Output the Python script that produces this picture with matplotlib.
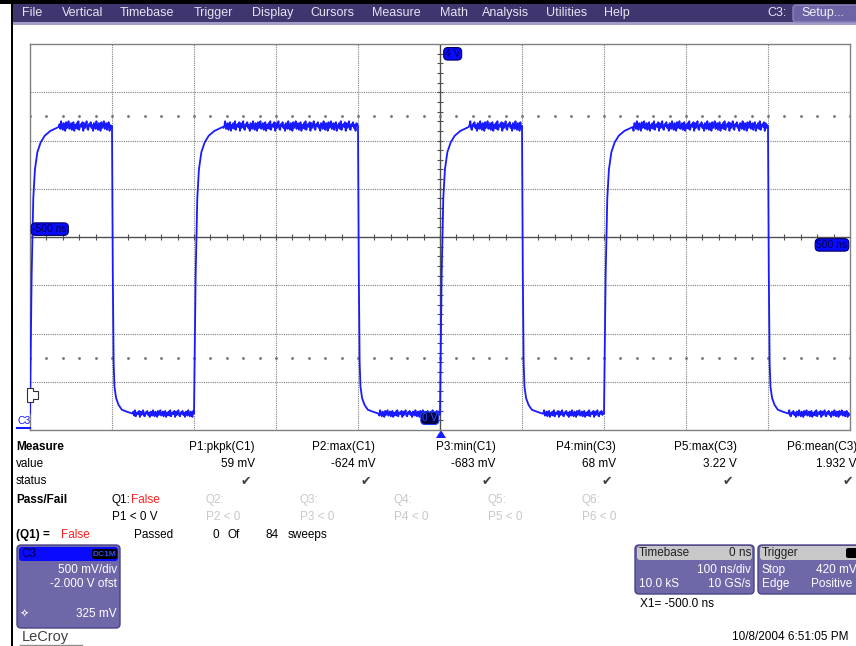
"""
LeCroy scope screen: C3 square-ish pulse train, 100 ns/div, 500 mV/div.
"""

# %% ---- Requirements and constants
import matplotlib
matplotlib.use("Agg")
import matplotlib.pyplot as plt
from matplotlib.patches import FancyBboxPatch, Rectangle, Polygon

plt.rcParams["font.family"] = ["Liberation Sans", "DejaVu Sans"]

W, H = 856, 646

# trace (time in ns, volts)
rise_times = [-500, -300, 0, 200]
fall_times = [-400, -100, 100, 400]
rise_dt = [0, 2, 4, 6, 9, 13, 18, 25, 35]
rise_v = [0.17, 1.6, 2.4, 2.7, 2.88, 2.98, 3.05, 3.10, 3.14]
fall_dt = [0, 1, 2, 3, 5, 8, 12, 18, 25]
fall_v = [3.15, 1.6, 0.70, 0.45, 0.33, 0.26, 0.21, 0.19, 0.17]
high_level = 3.15
low_level = 0.17
ripple = [0.02, -0.03, 0.05, -0.01, -0.04, 0.03, 0.01, -0.05, 0.04, -0.02,
          0.00, 0.05, -0.03, -0.01, 0.03, -0.04, 0.02, 0.04, -0.05, 0.01,
          -0.02, 0.03, -0.03, 0.05, -0.04, 0.00, 0.02, -0.01, 0.04, -0.05,
          0.03, -0.02, 0.01, 0.05, -0.03, -0.04, 0.02, 0.00, 0.04, -0.02,
          0.01, -0.05, 0.03]

menu_items = ["File", "Vertical", "Timebase", "Trigger", "Display", "Cursors",
              "Measure", "Math", "Analysis", "Utilities", "Help"]
menu_x = [22, 62, 120, 194, 252, 310, 372, 440, 482, 546, 604]

param_names = ["P1:pkpk(C1)", "P2:max(C1)", "P3:min(C1)",
               "P4:min(C3)", "P5:max(C3)", "P6:mean(C3)"]
param_values = ["59 mV", "-624 mV", "-683 mV", "68 mV", "3.22 V", "1.932 V"]
qual_names = ["Q1:", "Q2:", "Q3:", "Q4:", "Q5:", "Q6:"]
qual_conds = ["P1 < 0 V", "P2 < 0", "P3 < 0", "P4 < 0", "P5 < 0", "P6 < 0"]

PURPLE = "#3f3670"
BOXBODY = "#6e68a8"
TRACE = "#1a1aff"


# %% ---- Function and class
def build_trace():
    edges = sorted([(t, "r") for t in rise_times] + [(t, "f") for t in fall_times])
    ts, vs = [], []
    k = 0
    for i, (t0, kind) in enumerate(edges):
        dts, shape = (rise_dt, rise_v) if kind == "r" else (fall_dt, fall_v)
        level = high_level if kind == "r" else low_level
        scale = 1.0 if kind == "r" else 0.7
        for dt, v in zip(dts, shape):
            ts.append(t0 + dt)
            vs.append(v)
        t_end = edges[i + 1][0] if i + 1 < len(edges) else 500
        t = t0 + dts[-1] + 1
        while t < t_end:
            ts.append(t)
            vs.append(level + scale * ripple[k % len(ripple)])
            k += 1
            t += 1
    return ts, vs


def rbox(ax, x, y, w, h, fc, ec="none", r=3, lw=1):
    ax.add_patch(FancyBboxPatch((x, y), w, h,
                                boxstyle=f"round,pad=0,rounding_size={r}",
                                fc=fc, ec=ec, lw=lw))


# %% ---- Play ground
fig = plt.figure(figsize=(W / 100, H / 100), dpi=100)
bg = fig.add_axes([0, 0, 1, 1], zorder=0)
bg.set_xlim(0, W)
bg.set_ylim(H, 0)
bg.axis("off")

# frame + menu bar
bg.add_patch(Rectangle((0, 0), W, 4, fc="black"))
bg.add_patch(Rectangle((11, 0), 2, H, fc="black"))
bg.add_patch(Rectangle((13, 4), W, 18, fc=PURPLE))
bg.add_patch(Rectangle((13, 22), W, 3, fc="#a49cc8"))
for name, x in zip(menu_items, menu_x):
    bg.text(x, 13, name, color="#e6e4f2", fontsize=9, va="center")
bg.text(767, 13, "C3:", color="#e6e4f2", fontsize=9, va="center")
rbox(bg, 793, 5, 70, 17, "#6c64a4", "#8a84b8", r=3)
bg.text(801, 13, "Setup...", color="#f0f0f8", fontsize=9, va="center")

# scope grid
ax = fig.add_axes([30 / W, 1 - 430 / H, 820 / W, 386 / H], zorder=1)
ax.set_xlim(-500, 500)
ax.set_ylim(0, 4)
ax.set_xticks([])
ax.set_yticks([])
for s in ax.spines.values():
    s.set_color("#808080")
    s.set_linewidth(1)
for gx in range(-400, 500, 100):
    if gx != 0:
        ax.axvline(gx, color="#808080", lw=0.8, ls=(0, (1, 1)), zorder=1)
for gy in [0.5, 1.0, 1.5, 2.5, 3.0, 3.5]:
    ax.axhline(gy, color="#808080", lw=0.8, ls=(0, (1, 1)), zorder=1)
ax.axhline(2, color="#505050", lw=1, zorder=1)
ax.axvline(0, color="#505050", lw=1, zorder=1)
tick_t = [t for t in range(-500, 501, 20)]
tick_v = [v / 10 for v in range(0, 41)]
ax.plot(tick_t, [2] * len(tick_t), ls="none", marker="|", ms=5, mew=0.8, color="#505050", zorder=1)
ax.plot([0] * len(tick_v), tick_v, ls="none", marker="_", ms=5, mew=0.8, color="#505050", zorder=1)
for lv in [3.25, 0.75]:
    ax.plot(tick_t, [lv] * len(tick_t), ls="none", marker="s", ms=0.9, color="#707070", zorder=1)

ts, vs = build_trace()
ax.plot(ts, vs, color=TRACE, lw=1.3, zorder=3)

# on-grid labels
lab = dict(fontsize=7.5, color="#000050", zorder=5)
ax.text(-497, 2.03, "-500 ns", ha="left", va="bottom",
        bbox=dict(boxstyle="round,pad=0.12,rounding_size=0.4", fc="#0a0aff", ec="#000060", lw=0.8), **lab)
ax.text(497, 1.97, "500 ns", ha="right", va="top",
        bbox=dict(boxstyle="round,pad=0.12,rounding_size=0.4", fc="#0a0aff", ec="#000060", lw=0.8), **lab)
ax.text(6, 3.95, "4 V", ha="left", va="top",
        bbox=dict(boxstyle="round,pad=0.12,rounding_size=0.4", fc="#0a0aff", ec="#000060", lw=0.8), **lab)
ax.text(-3, 0.07, "0 V", ha="right", va="bottom", fontsize=7.5, color="#3050ff", zorder=5,
        bbox=dict(boxstyle="round,pad=0.12,rounding_size=0.4", fc="#000040", ec="#2040ff", lw=0.8))

# trigger / level markers (drawn over the grid frame)
bg.add_patch(Polygon([[436, 438], [446, 438], [441, 430]], fc="#1a1aff", zorder=2))
ax.add_patch(Polygon([[27, 388], [33, 388], [33, 391], [38, 391], [38, 399],
                      [33, 399], [33, 402], [27, 402]], fc="white", ec="#303030",
                     lw=0.8, transform=bg.transData, clip_on=False, zorder=6))
ax.text(18, 421, "C3", color="#1a1aff", fontsize=7.5, va="center",
        transform=bg.transData, clip_on=False, zorder=6)
ax.plot([17, 30], [428, 428], color="#1a1aff", lw=1.5,
        transform=bg.transData, clip_on=False, zorder=6)

# measurement table
fs = 8.5
bg.text(16, 447, "Measure", fontsize=fs, weight="bold", va="center")
bg.text(16, 464, "value", fontsize=fs, va="center")
bg.text(16, 481, "status", fontsize=fs, va="center")
bg.text(16, 500, "Pass/Fail", fontsize=fs, weight="bold", va="center")
for i, (nm, val) in enumerate(zip(param_names, param_values)):
    xr = 255 + 120.4 * i
    bg.text(xr, 447, nm, fontsize=fs, ha="right", va="center")
    bg.text(xr, 464, val, fontsize=fs, ha="right", va="center")
    bg.text(xr - 4, 481, "\u2714", fontsize=9, ha="right", va="center",
            color="#404040", family="DejaVu Sans")
for i, (qn, qc) in enumerate(zip(qual_names, qual_conds)):
    xl = 112 + 94 * i
    col = "black" if i == 0 else "#c8c8c8"
    bg.text(xl, 500, qn, fontsize=fs, va="center", color=col)
    bg.text(xl, 517, qc, fontsize=fs, va="center", color=col)
bg.text(131, 500, "False", fontsize=fs, va="center", color="#ff2020")
bg.text(16, 535, "(Q1) =", fontsize=fs, weight="bold", va="center")
bg.text(61, 535, "False", fontsize=fs, va="center", color="#ff2020")
bg.text(134, 535, "Passed", fontsize=fs, va="center")
bg.text(213, 535, "0", fontsize=fs, va="center")
bg.text(228, 535, "Of", fontsize=fs, va="center")
bg.text(266, 535, "84", fontsize=fs, va="center")
bg.text(288, 535, "sweeps", fontsize=fs, va="center")

# channel descriptor box
rbox(bg, 17, 545, 103, 83, BOXBODY, "#4a4488", r=4)
rbox(bg, 19, 547, 99, 14, "#0a0aff", "none", r=3)
bg.text(21, 554, "C3", fontsize=8.5, va="center", color="#000040")
rbox(bg, 92, 549, 25, 10, "black", "none", r=2)
bg.text(104.5, 554, "DC1M", fontsize=6, va="center", ha="center", color="#3050ff", weight="bold")
bg.text(117, 570, "500 mV/div", fontsize=fs, ha="right", va="center", color="white")
bg.text(117, 584, "-2.000 V ofst", fontsize=fs, ha="right", va="center", color="white")
bg.text(117, 614, "325 mV", fontsize=fs, ha="right", va="center", color="white")
bg.text(24, 614, "\u2727", fontsize=8, ha="center", va="center", color="white", family="DejaVu Sans")
bg.text(22, 637, "LeCroy", fontsize=10.5, va="center", color="#404040")
bg.plot([20, 82], [645, 645], color="#909090", lw=1)

# timebase / trigger boxes
rbox(bg, 635, 545, 119, 49, BOXBODY, "#4a4488", r=4)
rbox(bg, 637, 546, 115, 14, "#c8c8c8", "none", r=3)
bg.text(639, 553, "Timebase", fontsize=fs, va="center", color="#202020")
bg.text(751, 553, "0 ns", fontsize=fs, ha="right", va="center", color="#202020")
bg.text(751, 570, "100 ns/div", fontsize=fs, ha="right", va="center", color="white")
bg.text(639, 584, "10.0 kS", fontsize=fs, va="center", color="white")
bg.text(751, 584, "10 GS/s", fontsize=fs, ha="right", va="center", color="white")
rbox(bg, 758, 545, 110, 49, BOXBODY, "#4a4488", r=4)
rbox(bg, 760, 546, 106, 14, "#c8c8c8", "none", r=3)
bg.text(762, 553, "Trigger", fontsize=fs, va="center", color="#202020")
rbox(bg, 846, 548, 12, 10, "black", "none", r=2)
bg.text(762, 570, "Stop", fontsize=fs, va="center", color="white")
bg.text(816, 570, "420 mV", fontsize=fs, va="center", color="white")
bg.text(762, 584, "Edge", fontsize=fs, va="center", color="white")
bg.text(811, 584, "Positive", fontsize=fs, va="center", color="white")
bg.text(640, 604, "X1= -500.0 ns", fontsize=fs, va="center")
bg.text(732, 637, "10/8/2004 6:51:05 PM", fontsize=fs, va="center")

fig.savefig("out.png", dpi=100)
